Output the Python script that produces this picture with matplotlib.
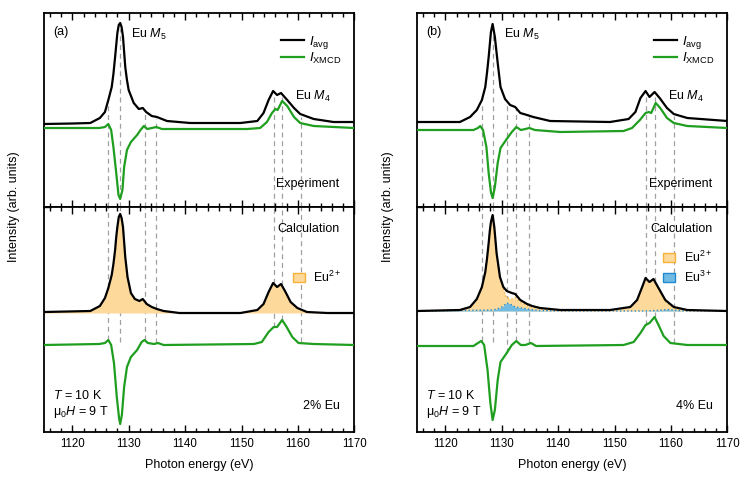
import matplotlib
matplotlib.use("Agg")
import matplotlib.pyplot as plt
from matplotlib.patches import Patch
from matplotlib.ticker import MultipleLocator

plt.rcParams["font.family"] = ["Liberation Sans", "DejaVu Sans"]
plt.rcParams["mathtext.fontset"] = "custom"
plt.rcParams["mathtext.rm"] = "Liberation Sans"
plt.rcParams["mathtext.it"] = "Liberation Sans:italic"

BLACK = "#000000"
GREEN = "#1f9e1f"
DASH = "#a0a0a0"
EU2_FACE, EU2_EDGE = "#fdd99b", "#f7b13a"
EU3_FACE, EU3_EDGE = "#72bce4", "#1f8ad0"

# ---- panel (a): 2% Eu ----
a_exp_avg_e = [1115.0, 1120.0, 1123.2, 1124.9, 1125.8, 1126.4, 1127.0, 1127.3, 1127.6, 1127.85,
               1128.0, 1128.25, 1128.5, 1128.75, 1129.0, 1129.2, 1129.4, 1129.7, 1130.0, 1130.9,
               1131.8, 1132.5, 1133.1, 1134.1, 1135.0, 1136.8, 1140.9, 1149.8, 1152.8, 1153.9,
               1154.8, 1155.6, 1156.3, 1157.0, 1158.1, 1159.3, 1160.4, 1162.8, 1166.3, 1170.0]
a_exp_avg = [0.83, 0.835, 0.84, 0.89, 0.95, 1.07, 1.20, 1.33, 1.50, 1.65,
             1.74, 1.82, 1.84, 1.80, 1.70, 1.55, 1.40, 1.27, 1.17, 1.04,
             0.98, 0.99, 0.95, 0.91, 0.90, 0.86, 0.84, 0.84, 0.86, 0.94,
             1.07, 1.16, 1.12, 1.14, 1.07, 0.99, 0.93, 0.88, 0.85, 0.85]
a_exp_xmcd_e = [1115.0, 1124.8, 1125.8, 1126.4, 1126.9, 1127.3, 1127.8, 1128.2, 1128.5, 1128.9,
                1129.2, 1129.7, 1130.4, 1131.5, 1132.1, 1132.7, 1133.3, 1134.1, 1134.9, 1135.9,
                1140.9, 1151.0, 1153.3, 1154.5, 1155.4, 1156.0, 1156.4, 1157.2, 1158.1, 1159.3,
                1160.4, 1162.8, 1170.0]
a_exp_xmcd = [0.79, 0.79, 0.80, 0.83, 0.77, 0.60, 0.34, 0.12, 0.08, 0.17,
              0.40, 0.57, 0.65, 0.72, 0.77, 0.81, 0.78, 0.79, 0.80, 0.78,
              0.78, 0.78, 0.79, 0.85, 0.94, 0.98, 0.97, 1.06, 1.01, 0.90,
              0.84, 0.81, 0.79]
a_calc_avg_e = [1115.0, 1123.2, 1124.9, 1125.8, 1126.4, 1127.0, 1127.3, 1127.6, 1127.8, 1128.0,
                1128.25, 1128.5, 1128.75, 1129.0, 1129.2, 1129.4, 1129.8, 1130.4, 1131.1, 1131.9,
                1132.5, 1133.2, 1134.1, 1135.0, 1136.2, 1139.0, 1149.8, 1152.8, 1153.9, 1154.8,
                1155.6, 1156.3, 1157.0, 1157.8, 1158.7, 1159.9, 1161.6, 1165.2, 1170.0]
a_calc_avg = [1.20, 1.21, 1.26, 1.34, 1.44, 1.57, 1.68, 1.82, 1.95, 2.05,
              2.15, 2.18, 2.14, 2.05, 1.90, 1.75, 1.55, 1.39, 1.33, 1.31,
              1.33, 1.28, 1.25, 1.23, 1.21, 1.19, 1.19, 1.22, 1.28, 1.40,
              1.49, 1.45, 1.48, 1.40, 1.30, 1.24, 1.20, 1.19, 1.19]
a_calc_base = 1.19
a_calc_xmcd_e = [1115.0, 1124.8, 1125.8, 1126.4, 1126.9, 1127.4, 1127.9, 1128.3, 1128.5, 1128.8,
                 1129.2, 1129.7, 1130.4, 1131.5, 1132.3, 1132.8, 1133.4, 1134.5, 1135.2, 1136.2,
                 1152.2, 1153.6, 1154.8, 1155.7, 1156.3, 1157.2, 1158.0, 1159.0, 1160.1, 1162.8,
                 1170.0]
a_calc_xmcd = [0.87, 0.88, 0.89, 0.92, 0.87, 0.69, 0.35, 0.14, 0.08, 0.17,
               0.45, 0.65, 0.75, 0.82, 0.90, 0.92, 0.89, 0.88, 0.89, 0.87,
               0.88, 0.90, 1.00, 1.05, 1.05, 1.12, 1.05, 0.95, 0.89, 0.88,
               0.87]
a_marks = [1126.4, 1128.5, 1132.9, 1134.9, 1155.7, 1157.2, 1160.5]
a_marks_top = [1.04, 1.78, 0.96, 0.88, 1.13, 1.11, 0.90]
a_marks_bot = [0.92, 0.90, 0.92, 0.89, 1.05, 1.12, 0.90]

# ---- panel (b): 4% Eu ----
b_exp_avg_e = [1115.0, 1122.6, 1124.4, 1125.6, 1126.5, 1127.1, 1127.4, 1127.7, 1128.1, 1128.4,
               1128.8, 1129.3, 1129.8, 1130.6, 1131.5, 1132.4, 1133.3, 1134.5, 1135.6, 1138.6,
               1149.2, 1152.5, 1153.7, 1154.6, 1155.5, 1156.2, 1157.1, 1158.0, 1159.3, 1160.5,
               1162.9, 1170.0]
b_exp_avg = [0.85, 0.85, 0.90, 0.97, 1.07, 1.20, 1.34, 1.50, 1.75, 1.83,
             1.70, 1.44, 1.20, 1.08, 1.02, 1.00, 0.94, 0.92, 0.90, 0.86,
             0.85, 0.88, 0.95, 1.09, 1.16, 1.10, 1.15, 1.09, 0.99, 0.93,
             0.89, 0.86]
b_exp_xmcd_e = [1115.0, 1125.0, 1125.8, 1126.2, 1126.7, 1127.3, 1127.7, 1128.1, 1128.4, 1128.8,
                1129.3, 1129.8, 1130.9, 1131.8, 1132.6, 1133.4, 1134.2, 1134.9, 1135.9, 1140.4,
                1151.6, 1153.1, 1154.5, 1155.5, 1156.1, 1156.5, 1157.3, 1158.1, 1159.3, 1160.5,
                1162.9, 1170.0]
b_exp_xmcd = [0.77, 0.77, 0.79, 0.81, 0.77, 0.60, 0.34, 0.15, 0.09, 0.20,
              0.44, 0.59, 0.68, 0.75, 0.80, 0.77, 0.78, 0.79, 0.77, 0.75,
              0.76, 0.79, 0.87, 0.94, 0.95, 0.94, 1.04, 0.99, 0.89, 0.84,
              0.81, 0.79]
b_calc_e = [1115.0, 1122.6, 1124.4, 1125.6, 1126.5, 1127.1, 1127.4, 1127.7, 1127.9, 1128.1,
            1128.4, 1128.7, 1128.9, 1129.1, 1129.7, 1130.3, 1130.9, 1131.8, 1132.4, 1133.3,
            1134.5, 1135.4, 1136.8, 1140.4, 1149.2, 1152.8, 1154.0, 1154.9, 1155.5, 1156.2,
            1156.9, 1157.8, 1159.0, 1160.5, 1162.9, 1170.0]
b_calc_avg = [1.21, 1.22, 1.25, 1.33, 1.45, 1.60, 1.73, 1.89, 2.01, 2.10,
              2.17, 2.05, 1.92, 1.79, 1.55, 1.45, 1.41, 1.39, 1.38, 1.32,
              1.28, 1.26, 1.24, 1.22, 1.22, 1.25, 1.32, 1.45, 1.54, 1.50,
              1.53, 1.44, 1.32, 1.25, 1.22, 1.21]
b_calc_eu2 = [1.21, 1.22, 1.25, 1.33, 1.45, 1.60, 1.73, 1.89, 2.01, 2.10,
              2.17, 2.05, 1.92, 1.78, 1.55, 1.42, 1.34, 1.33, 1.345, 1.30,
              1.265, 1.25, 1.23, 1.215, 1.215, 1.245, 1.315, 1.445, 1.535, 1.495,
              1.525, 1.43, 1.305, 1.24, 1.215, 1.21]
b_calc_eu3_e = [1115.0, 1128.5, 1129.7, 1130.3, 1130.9, 1131.5, 1132.4, 1133.6, 1135.1, 1136.8,
                1140.4, 1155.0, 1157.5, 1159.3, 1160.5, 1162.5, 1170.0]
b_calc_eu3 = [1.21, 1.22, 1.24, 1.26, 1.29, 1.28, 1.25, 1.24, 1.225, 1.215,
              1.21, 1.21, 1.215, 1.225, 1.22, 1.21, 1.21]
b_calc_base = 1.21
b_calc_xmcd_e = [1115.0, 1125.0, 1125.8, 1126.4, 1126.9, 1127.5, 1128.0, 1128.4, 1128.8, 1129.3,
                 1129.8, 1130.9, 1131.8, 1132.6, 1133.4, 1134.2, 1135.2, 1136.1, 1151.6, 1153.4,
                 1154.6, 1155.5, 1156.2, 1157.1, 1157.8, 1158.7, 1159.9, 1162.9, 1170.0]
b_calc_xmcd = [0.86, 0.86, 0.89, 0.91, 0.87, 0.62, 0.29, 0.12, 0.22, 0.52,
               0.70, 0.79, 0.87, 0.91, 0.87, 0.87, 0.89, 0.86, 0.87, 0.90,
               0.99, 1.07, 1.09, 1.15, 1.07, 0.96, 0.89, 0.87, 0.87]
b_marks = [1126.5, 1128.4, 1130.9, 1132.6, 1134.9, 1155.6, 1157.1, 1160.5]
b_marks_top = [1.05, 1.80, 1.06, 0.98, 0.90, 1.14, 1.13, 0.91]
b_marks_bot = [0.91, 0.90, 0.79, 0.91, 0.89, 1.07, 1.15, 0.89]


def style_axis(ax, ylim, bottom_labels):
    ax.set_xlim(1115, 1170)
    ax.set_ylim(*ylim)
    ax.xaxis.set_major_locator(MultipleLocator(10))
    ax.xaxis.set_minor_locator(MultipleLocator(2))
    ax.tick_params(which="both", direction="in", top=True, bottom=True,
                   left=False, labelleft=False, labelbottom=bottom_labels,
                   width=1.0, labelsize=8.3, pad=4)
    ax.tick_params(which="major", length=5)
    ax.tick_params(which="minor", length=3)
    for s in ax.spines.values():
        s.set_linewidth(1.3)


def draw_panel(fig, left, tag, exp_avg_e, exp_avg, exp_xmcd_e, exp_xmcd,
               marks, marks_top, marks_bot, conc, ylabel_x):
    ax_top = fig.add_axes([left, 0.5714, 0.4155, 0.4017])
    ax_bot = fig.add_axes([left, 0.1056, 0.4155, 0.4658])
    style_axis(ax_top, (0, 1.94), False)
    style_axis(ax_bot, (0, 2.25), True)
    ax_bot.set_yticks([2.25])
    ax_bot.tick_params(axis="y", left=True, length=5, width=1.0)

    # dashed guide lines through both panels
    ax_top.vlines(marks, 0, marks_top, colors=DASH, linestyles=(0, (4, 3)), lw=0.9, zorder=1)
    ax_bot.vlines(marks, marks_bot, 2.25, colors=DASH, linestyles=(0, (4, 3)), lw=0.9, zorder=1)

    l_avg, = ax_top.plot(exp_avg_e, exp_avg, color=BLACK, lw=1.6, zorder=4)
    l_xmcd, = ax_top.plot(exp_xmcd_e, exp_xmcd, color=GREEN, lw=1.6, zorder=3)

    ax_top.legend([l_avg, l_xmcd], [r"$I_{\mathrm{avg}}$", r"$I_{\mathrm{XMCD}}$"],
                  loc="upper right", bbox_to_anchor=(0.988, 0.94), frameon=False,
                  fontsize=9.5, handlelength=1.75, handletextpad=0.4,
                  labelspacing=0.0, borderpad=0.2)

    ax_top.text(0.029, 0.902, tag, transform=ax_top.transAxes, fontsize=9, va="center")
    ax_top.text(0.28, 0.887, r"Eu $M_5$", transform=ax_top.transAxes, fontsize=9, va="center")
    ax_top.text(0.81, 0.569, r"Eu $M_4$", transform=ax_top.transAxes, fontsize=9, va="center")
    ax_top.text(0.952, 0.119, "Experiment", transform=ax_top.transAxes, fontsize=9,
                va="center", ha="right")
    ax_bot.text(0.952, 0.902, "Calculation", transform=ax_bot.transAxes, fontsize=9,
                va="center", ha="right")
    ax_bot.text(0.952, 0.117, conc, transform=ax_bot.transAxes, fontsize=9,
                va="center", ha="right")
    ax_bot.text(0.029, 0.161, r"$T$ = 10 K", transform=ax_bot.transAxes, fontsize=9,
                va="center")
    ax_bot.text(0.029, 0.09, r"$\mathrm{\mu}_{0}H$ = 9 T", transform=ax_bot.transAxes,
                fontsize=9, va="center")

    ax_bot.set_xlabel("Photon energy (eV)", fontsize=9, labelpad=7)
    fig.text(ylabel_x, 1 - 207 / 483, "Intensity (arb. units)", rotation=90,
             fontsize=9, ha="center", va="center")
    return ax_top, ax_bot


fig = plt.figure(figsize=(7.47, 4.83), dpi=100)

# panel (a)
axa_top, axa_bot = draw_panel(fig, 44 / 747, "(a)", a_exp_avg_e, a_exp_avg,
                              a_exp_xmcd_e, a_exp_xmcd, a_marks, a_marks_top,
                              a_marks_bot, "2% Eu", 14 / 747)
axa_bot.fill_between(a_calc_avg_e, a_calc_base, a_calc_avg, color=EU2_FACE, lw=0, zorder=2)
axa_bot.plot(a_calc_avg_e, a_calc_avg, color=BLACK, lw=1.6, zorder=4)
axa_bot.plot(a_calc_xmcd_e, a_calc_xmcd, color=GREEN, lw=1.6, zorder=3)
axa_bot.legend([Patch(facecolor=EU2_FACE, edgecolor=EU2_EDGE, lw=1.0)], [r"Eu$^{2+}$"],
               loc="upper right", bbox_to_anchor=(0.985, 0.76), frameon=False,
               fontsize=9, handlelength=0.96, handleheight=0.7, handletextpad=0.64,
               borderpad=0.2)

# panel (b)
axb_top, axb_bot = draw_panel(fig, 417 / 747, "(b)", b_exp_avg_e, b_exp_avg,
                              b_exp_xmcd_e, b_exp_xmcd, b_marks, b_marks_top,
                              b_marks_bot, "4% Eu", 388 / 747)
axb_bot.fill_between(b_calc_e, b_calc_base, b_calc_eu2, color=EU2_FACE, lw=0, zorder=2)
axb_bot.plot(b_calc_e, b_calc_eu2, color=EU2_EDGE, lw=1.0, ls=":", zorder=2.5)
axb_bot.fill_between(b_calc_eu3_e, b_calc_base, b_calc_eu3, color=EU3_FACE, lw=0, zorder=2.6)
axb_bot.plot(b_calc_eu3_e, b_calc_eu3, color=EU3_EDGE, lw=1.0, ls=":", zorder=2.7)
axb_bot.plot(b_calc_e, b_calc_avg, color=BLACK, lw=1.6, zorder=4)
axb_bot.plot(b_calc_xmcd_e, b_calc_xmcd, color=GREEN, lw=1.6, zorder=3)
axb_bot.legend([Patch(facecolor=EU2_FACE, edgecolor=EU2_EDGE, lw=1.0),
                Patch(facecolor=EU3_FACE, edgecolor=EU3_EDGE, lw=1.0)],
               [r"Eu$^{2+}$", r"Eu$^{3+}$"],
               loc="upper right", bbox_to_anchor=(0.98, 0.848), frameon=False,
               fontsize=9, handlelength=0.96, handleheight=0.7, handletextpad=0.7,
               labelspacing=0.35, borderpad=0.2)

fig.savefig("out.png", dpi=100)
